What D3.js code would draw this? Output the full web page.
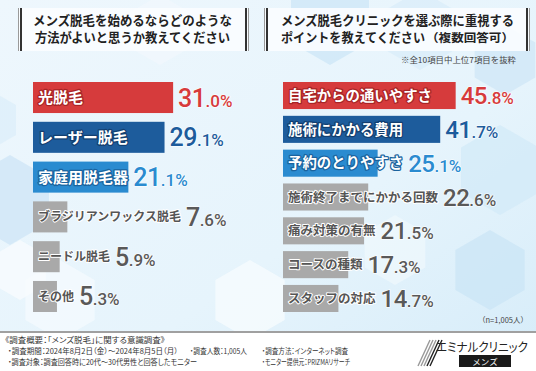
<!DOCTYPE html>
<html>
<head>
<meta charset="utf-8">
<script src="https://cdn.jsdelivr.net/npm/d3@7"></script>
<style>
  body { margin: 0; background: #fff; }
  svg { display: block; font-family: "Noto Sans CJK JP", "Noto Sans", sans-serif; }
  .palt { font-feature-settings: "palt"; }
</style>
</head>
<body>
<svg width="536" height="371"></svg>
<script>
// question 1
var leftTitle = ["メンズ脱毛を始めるならどのような", "方法がよいと思うか教えてください"]
var leftCats = ["光脱毛", "レーザー脱毛", "家庭用脱毛器", "ブラジリアンワックス脱毛", "ニードル脱毛", "その他"]
var leftVals = [31.0, 29.1, 21.1, 7.6, 5.9, 5.3]

// question 2
var rightTitle = ["メンズ脱毛クリニックを選ぶ際に重視する", "ポイントを教えてください"]
var rightCats = ["自宅からの通いやすさ", "施術にかかる費用", "予約のとりやすさ", "施術終了までにかかる回数", "痛み対策の有無", "コースの種類", "スタッフの対応"]
var rightVals = [45.8, 41.7, 25.1, 22.6, 21.5, 17.3, 14.7]

var footLines = [
    ["《調査概要：「メンズ脱毛」に関する意識調査》"],
    ["・調査期間：2024年8月2日（金）～2024年8月5日（月）", "・調査人数：1,005人", "・調査方法：インターネット調査"],
    ["・調査対象：調査回答時に20代～30代男性と回答したモニター", "", "・モニター提供元：PRIZMAリサーチ"]
]

var svg = d3.select('svg')
var W = 536, H = 371

var rankColor = ['#d63b3c', '#1d5c9c', '#2a8bd0']
var rankStroke = ['#a82426', '#133f70', '#1a639e']
var grey = '#a9a9a9'
var numFont = 'Roboto, "Liberation Sans Narrow", sans-serif'

// background
var defs = svg.append('defs')
var grad = defs.append('linearGradient').attr('id', 'bg').attr('x1', 0).attr('y1', 0).attr('x2', 1).attr('y2', 1)
grad.append('stop').attr('offset', '0%').attr('stop-color', '#eef7fd')
grad.append('stop').attr('offset', '60%').attr('stop-color', '#e6f4fc')
grad.append('stop').attr('offset', '100%').attr('stop-color', '#d6ecf9')
svg.append('rect').attr('width', W).attr('height', H).attr('fill', 'url(#bg)')

var hexes = [
    [10, 200, 45, '#cfe6f6', 0.8], [-10, 120, 30, '#dbeefa', 0.7], [60, 300, 40, '#f4fafe', 0.8],
    [330, 20, 45, '#cbe5f7', 0.7], [420, 30, 40, '#d9edf9', 0.7], [505, 60, 35, '#cde6f7', 0.7],
    [500, 170, 45, '#d2e9f8', 0.7], [490, 270, 40, '#c6e2f5', 0.6], [250, 300, 40, '#f6fbfe', 0.8],
    [160, 30, 35, '#f3f9fd', 0.6], [395, 250, 35, '#eef7fd', 0.8], [20, 270, 30, '#f7fbfe', 0.8]
]
var hexPath = function(cx, cy, r) {
    return d3.line()(d3.range(6).map(k => [cx + r * Math.cos(Math.PI / 3 * k + Math.PI / 6), cy + r * Math.sin(Math.PI / 3 * k + Math.PI / 6)])) + 'Z'
}
svg.append('g').selectAll('path').data(hexes).enter().append('path')
    .attr('d', d => hexPath(d[0], d[1], d[2]))
    .attr('fill', d => d[3]).attr('opacity', d => d[4])

// title boxes
function titleBox(x0, x1, lines, tx, lens, extra, extraLen) {
    var g = svg.append('g')
    g.append('rect').attr('x', x0).attr('y', 8).attr('width', x1 - x0).attr('height', 43).attr('fill', '#fbfdff').attr('opacity', 0.9)
    g.append('rect').attr('x', x0 - 1).attr('y', 8).attr('width', 1).attr('height', 43).attr('fill', '#9a9a9a')
    g.append('rect').attr('x', x0 + 1).attr('y', 8).attr('width', 2).attr('height', 43).attr('fill', '#333')
    g.append('rect').attr('x', x1 - 3).attr('y', 8).attr('width', 2).attr('height', 43).attr('fill', '#333')
    g.append('rect').attr('x', x1).attr('y', 8).attr('width', 1).attr('height', 43).attr('fill', '#9a9a9a')
    var t = g.selectAll('text.tl').data(lines).enter().append('text')
        .attr('x', (d, i) => tx[i]).attr('y', (d, i) => 25 + i * 17)
        .attr('font-size', '13px').attr('font-weight', 'bold').attr('fill', '#222')
        .attr('textLength', (d, i) => lens[i]).attr('lengthAdjust', 'spacingAndGlyphs')
        .text(d => d)
    if (extra) {
        g.append('text').attr('x', tx[1] + lens[1] + 1).attr('y', 42)
            .attr('font-size', '11.5px').attr('font-weight', 'bold').attr('fill', '#222')
            .attr('textLength', extraLen).attr('lengthAdjust', 'spacingAndGlyphs')
            .text(extra)
    }
}
titleBox(19, 248, leftTitle, [33, 35], [199, 195])
titleBox(265, 529, rightTitle, [281, 281], [233, 144], '（複数回答可）', 88)

svg.append('text').attr('x', 516).attr('y', 63).attr('text-anchor', 'end')
    .attr('font-size', '8px').attr('fill', '#444')
    .attr('textLength', 115).attr('lengthAdjust', 'spacingAndGlyphs')
    .text('※全10項目中上位7項目を抜粋')

// bar panels
function panel(cats, vals, x0, pxPer, y0, y1, pad, fsBig, fsGrey, numBig, numSmall) {
    var x = d3.scaleLinear().domain([0, 100]).range([x0, x0 + 100 * pxPer])
    var y = d3.scaleBand().domain(cats).range([y0, y1]).paddingInner(pad).paddingOuter(0)
    var g = svg.append('g')
    var rows = g.selectAll('g').data(cats).enter().append('g')

    rows.append('rect')
        .attr('x', x(0)).attr('y', d => y(d))
        .attr('width', (d, i) => x(vals[i]) - x(0))
        .attr('height', y.bandwidth())
        .attr('fill', (d, i) => i < 3 ? rankColor[i] : grey)

    var labels = rows.append('text')
        .attr('x', x(0) + 5).attr('y', d => y(d) + y.bandwidth() / 2)
        .attr('dy', '0.36em')
        .attr('font-size', (d, i) => i < 3 ? fsBig : fsGrey)
        .attr('font-weight', 'bold')
        .attr('fill', (d, i) => i < 3 ? '#fff' : '#555')
        .attr('stroke', (d, i) => i < 3 ? rankStroke[i] : '#fff')
        .attr('stroke-width', (d, i) => i < 3 ? 2.5 : 2)
        .attr('stroke-linejoin', 'round')
        .attr('paint-order', 'stroke')
        .text(d => d)

    rows.each(function(d, i) {
        var lw = labels.nodes()[i].getComputedTextLength()
        var vx = Math.max(x(vals[i]), x(0) + 5 + lw) + 5
        var parts = vals[i].toFixed(1).split('.')
        var t = d3.select(this).append('text')
            .attr('x', vx).attr('y', y(d) + y.bandwidth() / 2 + numBig * 0.36)
            .attr('font-family', numFont).attr('font-weight', 500)
            .attr('fill', i < 3 ? rankColor[i] : '#595959')
            .attr('stroke', '#fff').attr('stroke-width', 1.2).attr('paint-order', 'stroke')
        t.append('tspan').attr('font-size', numBig + 'px').attr('letter-spacing', '-0.5px').text(parts[0])
        t.append('tspan').attr('font-size', numSmall + 'px').text('.' + parts[1] + '%')
    })
}
panel(leftCats, leftVals, 33, 4.52, 82, 312, 0.22, '15px', '12px', 25, 17)
panel(rightCats, rightVals, 283, 3.77, 82, 312, 0.2, '14.4px', '12.5px', 24, 17)

svg.append('text').attr('x', 528).attr('y', 323).attr('text-anchor', 'end')
    .attr('font-size', '7.5px').attr('fill', '#444').text('（n=1,005人）')

// footer
svg.append('rect').attr('x', 0).attr('y', 332).attr('width', W).attr('height', H - 332).attr('fill', '#fff')
svg.append('rect').attr('x', 0).attr('y', 331).attr('width', W).attr('height', 2).attr('fill', '#a0a0a0')
var colX = [8, 190, 262]
var footLens = [[160], [170, 57, 86], [189, 0, 88]]
footLines.forEach(function(line, li) {
    line.forEach(function(s, ci) {
        if (!s) return
        svg.append('text').attr('class', 'palt')
            .attr('x', li === 0 ? 5 : colX[ci]).attr('y', 343 + li * 11)
            .attr('font-size', '7.6px').attr('fill', '#333')
            .attr('textLength', footLens[li][ci]).attr('lengthAdjust', 'spacingAndGlyphs')
            .text(s)
    })
})

// logo
var logo = svg.append('g')
d3.range(5).forEach(function(k) {
    logo.append('line').attr('x1', 418 + k * 3).attr('y1', 366).attr('x2', 430 + k * 3).attr('y2', 340)
        .attr('stroke', k < 3 ? '#999' : '#222').attr('stroke-width', 1.4)
})
logo.append('text').attr('class', 'palt').attr('x', 436).attr('y', 352).attr('font-size', '12.5px').attr('fill', '#222')
    .attr('textLength', 92).attr('lengthAdjust', 'spacingAndGlyphs').text('エミナルクリニック')
logo.append('rect').attr('x', 459).attr('y', 355).attr('width', 52).attr('height', 12).attr('fill', '#1a1a1a')
logo.append('text').attr('x', 485).attr('y', 364.5).attr('text-anchor', 'middle').attr('font-size', '8.5px').attr('fill', '#fff').text('メンズ')
</script>
</body>
</html>
